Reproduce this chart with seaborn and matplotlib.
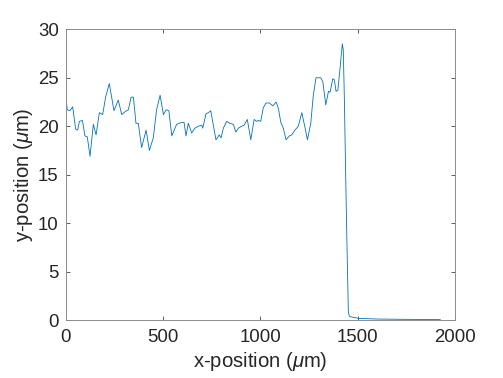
import numpy as np
import pandas as pd
import matplotlib
matplotlib.use("Agg")
import matplotlib.pyplot as plt
import seaborn as sns

# profile (x in um, y in um)
x_pos = [0, 8, 22, 36, 51, 62, 70, 86, 99, 111, 125, 142, 156, 173, 190, 205, 224, 248, 270, 288,
         305, 322, 336, 348, 361, 373, 390, 413, 430, 450, 467, 485, 502, 516, 530, 545, 570, 596, 608, 618,
         630, 647, 664, 681, 699, 704, 721, 733, 745, 755, 772, 789, 798, 810, 827, 844, 861, 874, 887, 904,
         916, 933, 951, 968, 981, 990, 1002, 1015, 1029, 1046, 1064, 1081, 1093, 1105, 1118, 1132, 1149, 1161, 1178, 1195,
         1213, 1230, 1242, 1259, 1272, 1286, 1310, 1321, 1336, 1350, 1358, 1372, 1380, 1389, 1398, 1410, 1421, 1426, 1432, 1437,
         1444, 1452, 1456, 1461, 1504, 1600, 1700, 1800, 1925]
y_pos = [23.2, 21.7, 21.6, 22.0, 19.7, 19.6, 20.5, 20.6, 19.0, 18.9, 16.9, 20.2, 19.1, 21.4, 21.2, 23.0, 24.4, 21.6, 22.7, 21.2,
         21.5, 21.7, 23.0, 23.0, 20.3, 20.3, 17.8, 19.6, 17.5, 18.8, 21.7, 23.2, 21.2, 21.7, 21.6, 19.0, 20.2, 20.4, 20.4, 19.0,
         20.3, 19.3, 19.8, 20.0, 20.1, 19.8, 21.3, 21.4, 21.6, 20.5, 18.6, 19.1, 18.8, 19.8, 20.5, 20.3, 20.2, 19.4, 19.8, 20.0,
         20.1, 20.7, 18.6, 20.7, 20.5, 20.6, 20.5, 21.9, 22.4, 22.4, 22.1, 22.5, 21.8, 20.4, 19.8, 18.6, 19.0, 19.1, 19.6, 20.0,
         21.4, 19.8, 18.6, 20.3, 23.2, 25.0, 25.0, 24.6, 22.2, 23.6, 23.5, 24.9, 24.8, 23.6, 23.7, 26.1, 28.5, 27.9, 22.4, 16.5,
         8.7, 0.9, 0.45, 0.35, 0.17, 0.1, 0.08, 0.06, 0.04]

x_ticks = [0, 500, 1000, 1500, 2000]
y_ticks = [0, 5, 10, 15, 20, 25, 30]

df = pd.DataFrame({"x": x_pos, "y": y_pos})

sns.set_style("ticks")
plt.rcParams["font.family"] = ["Liberation Sans", "DejaVu Sans"]
plt.rcParams["mathtext.fontset"] = "custom"
plt.rcParams["mathtext.it"] = "Liberation Sans:italic"
plt.rcParams["mathtext.rm"] = "Liberation Sans"

fig = plt.figure(figsize=(5.03, 3.78), dpi=100)
ax = fig.add_axes([0.1306, 0.1534, 0.774, 0.769])

sns.lineplot(data=df, x="x", y="y", ax=ax, color="#0072BD", linewidth=0.6, sort=False, estimator=None)

ax.set_xlim(0, 2000)
ax.set_ylim(0, 30)
ax.set_xticks(x_ticks)
ax.set_yticks(y_ticks)
ax.set_xlabel(r"x-position ($\mu$m)", fontsize=14.6, color="#262626", labelpad=3)
ax.set_ylabel(r"y-position ($\mu$m)", fontsize=14.6, color="#262626", labelpad=2)
ax.tick_params(direction="in", top=True, right=True, length=3, width=0.6,
               color="#444444", labelcolor="#262626", labelsize=13.4)
ax.tick_params(axis="x", pad=6.5)
ax.tick_params(axis="y", pad=5)
for s in ax.spines.values():
    s.set_visible(True)
    s.set_linewidth(0.7)
    s.set_color("#8c8c8c")

fig.savefig("out.png", dpi=100)
